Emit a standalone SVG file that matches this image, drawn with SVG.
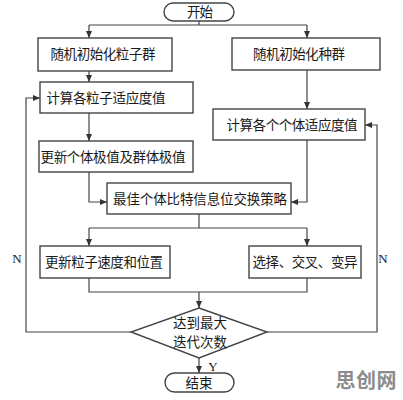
<svg xmlns="http://www.w3.org/2000/svg" width="403" height="400" viewBox="0 0 403 400">
<defs>
<marker id="ah" markerWidth="7" markerHeight="6" refX="7" refY="3" orient="auto" markerUnits="userSpaceOnUse">
<path d="M0,0 L7,3 L0,6 Z" fill="#333"/>
</marker>
<style>
.box{fill:#fff;stroke:#444;stroke-width:1.4}
.ln{fill:none;stroke:#444;stroke-width:1.2}
.t{font-family:"Noto Sans CJK SC","Liberation Serif",serif;font-size:13.5px;fill:#1a1a1a;text-anchor:middle}
.l{font-family:"Liberation Serif",serif;font-size:13px;fill:#1a1a1a;text-anchor:middle}
</style>
</defs>
<rect width="403" height="400" fill="#fff"/>
<g id="connectors">
<path class="ln" d="M199,21 V25 M89,25 H307"/>
<path class="ln" d="M89,25 V38" marker-end="url(#ah)"/>
<path class="ln" d="M307,25 V38" marker-end="url(#ah)"/>
<path class="ln" d="M89,71 V82" marker-end="url(#ah)"/>
<path class="ln" d="M307,70 V109" marker-end="url(#ah)"/>
<path class="ln" d="M89,113 V141" marker-end="url(#ah)"/>
<path class="ln" d="M89,172 V202 H107" marker-end="url(#ah)"/>
<path class="ln" d="M307,140 V202 H291" marker-end="url(#ah)"/>
<path class="ln" d="M199,214 V228 M89,228 H307"/>
<path class="ln" d="M89,228 V246" marker-end="url(#ah)"/>
<path class="ln" d="M307,228 V246" marker-end="url(#ah)"/>
<path class="ln" d="M89,278 V292 H307 V278"/>
<path class="ln" d="M199,292 V308" marker-end="url(#ah)"/>
<path class="ln" d="M131,332 H26 V98 H40" marker-end="url(#ah)"/>
<path class="ln" d="M267,332 H377 V125 H365" marker-end="url(#ah)"/>
<path class="ln" d="M199,358 V373" marker-end="url(#ah)"/>
<text class="l" x="17" y="263">N</text>
<text class="l" x="383" y="263">N</text>
<text class="l" x="213" y="371">Y</text>
</g>
<g id="start">
<rect class="box" x="164" y="3" width="70" height="18" rx="9" ry="9"/>
<text class="t" x="200" y="17" textLength="26" lengthAdjust="spacing">开始</text>
</g>
<g id="init-particles">
<rect class="box" x="38" y="38" width="134" height="33"/>
<text class="t" x="103" y="59" textLength="105" lengthAdjust="spacing">随机初始化粒子群</text>
</g>
<g id="init-population">
<rect class="box" x="232" y="38" width="148" height="32"/>
<text class="t" x="299" y="59" textLength="92" lengthAdjust="spacing">随机初始化种群</text>
</g>
<g id="calc-particle-fitness">
<rect class="box" x="40" y="82" width="153" height="31"/>
<text class="t" x="106" y="103" textLength="119" lengthAdjust="spacing">计算各粒子适应度值</text>
</g>
<g id="calc-individual-fitness">
<rect class="box" x="213" y="109" width="152" height="31"/>
<text class="t" x="292" y="130" textLength="131" lengthAdjust="spacing">计算各个个体适应度值</text>
</g>
<g id="update-extrema">
<rect class="box" x="39" y="141" width="154" height="31"/>
<text class="t" x="113" y="162" textLength="145" lengthAdjust="spacing">更新个体极值及群体极值</text>
</g>
<g id="exchange">
<rect class="box" x="107" y="183" width="184" height="31"/>
<text class="t" x="200" y="204" textLength="174" lengthAdjust="spacing">最佳个体比特信息位交换策略</text>
</g>
<g id="update-velocity">
<rect class="box" x="40" y="246" width="130" height="32"/>
<text class="t" x="104" y="267" textLength="118" lengthAdjust="spacing">更新粒子速度和位置</text>
</g>
<g id="ga-ops">
<rect class="box" x="249" y="246" width="112" height="32"/>
<text class="t" x="305" y="267" textLength="105" lengthAdjust="spacing">选择、交叉、变异</text>
</g>
<g id="decision">
<polygon class="box" points="199,308 267,332 199,358 131,332"/>
<text class="t" x="200" y="328" textLength="54" lengthAdjust="spacing">达到最大</text>
<text class="t" x="200" y="347" textLength="54" lengthAdjust="spacing">迭代次数</text>
</g>
<g id="end">
<rect class="box" x="165" y="373" width="69" height="19" rx="9.5" ry="9.5"/>
<text class="t" x="199" y="388" textLength="27" lengthAdjust="spacing">结束</text>
</g>
<text x="366" y="388" font-family="Noto Sans CJK SC, sans-serif" font-size="20" font-weight="bold" fill="#8c8c8c" text-anchor="middle" textLength="61" lengthAdjust="spacing">思创网</text>
</svg>
